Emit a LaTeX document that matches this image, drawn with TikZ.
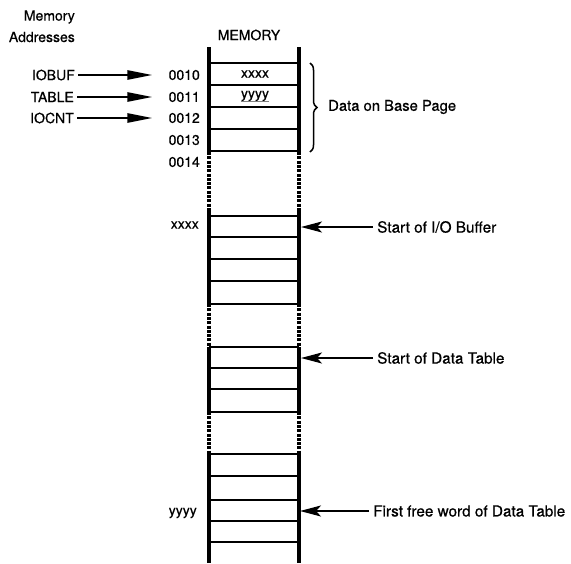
\documentclass[tikz,border=0pt]{standalone}
\usepackage{fontspec}
\setmainfont{TeX Gyre Heros}[FakeBold=0.6]
\usetikzlibrary{arrows.meta,decorations.pathreplacing}
\begin{document}
\begin{tikzpicture}[x=1pt,y=-1pt,
  lbl/.style={font=\fontsize{14}{16}\selectfont, inner sep=0pt},
  rlbl/.style={font=\fontsize{15.3}{17}\selectfont, inner sep=0pt, anchor=west},
  rail/.style={line width=3.8pt},
  dashrail/.style={line width=3.8pt, dash pattern=on 3pt off 1.3pt},
  rung/.style={line width=2.3pt},
  ptr/.style={line width=2.4pt, -{Triangle[length=25pt,width=9pt]}, shorten <=3pt, shorten >=16pt},
  back/.style={line width=2pt, -{Stealth[length=21pt,width=11pt,inset=5pt]}, shorten <=4pt},
  bracestyle/.style={line width=1.5pt, decorate, decoration={brace, amplitude=7pt}}]
\useasboundingbox (0,0) rectangle (571,563);

% headings
\node[lbl, anchor=east] (mem1) at (75,17) {Memory};
\node[lbl, anchor=east] (mem2) at (75,37) {Addresses};
\node[lbl] (memtitle) at (249,35) {MEMORY};

% rails
\foreach \x in {209,299} {
  \draw[rail] (\x,47) -- (\x,152);
  \draw[dashrail] (\x,152) -- (\x,210);
  \draw[rail] (\x,210) -- (\x,304);
  \draw[dashrail] (\x,304) -- (\x,347);
  \draw[rail] (\x,347) -- (\x,412);
  \draw[dashrail] (\x,412) -- (\x,454);
  \draw[rail] (\x,454) -- (\x,563);
}
% rungs
\foreach \y in {63,85,107,129,151,216,237,259,281,304,347,368,389,412,454,476,500,521,542}
  \draw[rung] (209,\y) -- (299,\y);

% cell contents
\node[lbl] (cx) at (255,74) {xxxx};
\node[lbl] (cy) at (255,96) {yyyy};
\draw[gray, line width=0.8pt] (cy.south west) -- (cy.south east);

% addresses
\node[lbl, anchor=east] (a10) at (200,75) {0010};
\node[lbl, anchor=east] (a11) at (200,97) {0011};
\node[lbl, anchor=east] (a12) at (200,118) {0012};
\node[lbl, anchor=east] (a13) at (200,140) {0013};
\node[lbl, anchor=east] (a14) at (200,162) {0014};
\node[lbl, anchor=east] (axx) at (199,225) {xxxx};
\node[lbl, anchor=east] (ayy) at (197,513) {yyyy};

% pointer names
\node[lbl, anchor=east] (iobuf) at (75,75) {IOBUF};
\node[lbl, anchor=east] (table) at (74,97) {TABLE};
\node[lbl, anchor=east] (iocnt) at (74,118) {IOCNT};
\draw[ptr] (iobuf.east) -- (a10.west);
\draw[ptr] (table.east) -- (a11.west);
\draw[ptr] (iocnt.east) -- (a12.west);

% brace
\coordinate (btop) at (310,63);
\coordinate (bbot) at (310,152);
\draw[bracestyle] (btop) -- (bbot);
\node[rlbl, font=\fontsize{14.8}{17}\selectfont] (base) at (328,107) {Data on Base Page};

% right labels and arrows
\coordinate (pio) at (301,227);
\coordinate (pdt) at (301,358);
\coordinate (pff) at (300,511);
\node[rlbl] (sio) at (377,227) {Start of I/O Buffer};
\node[rlbl] (sdt) at (377,358) {Start of Data Table};
\node[rlbl] (sff) at (373,511) {First free word of Data Table};
\draw[back] (sio.west) -- (pio);
\draw[back] (sdt.west) -- (pdt);
\draw[back] (sff.west) -- (pff);
\end{tikzpicture}
\end{document}
